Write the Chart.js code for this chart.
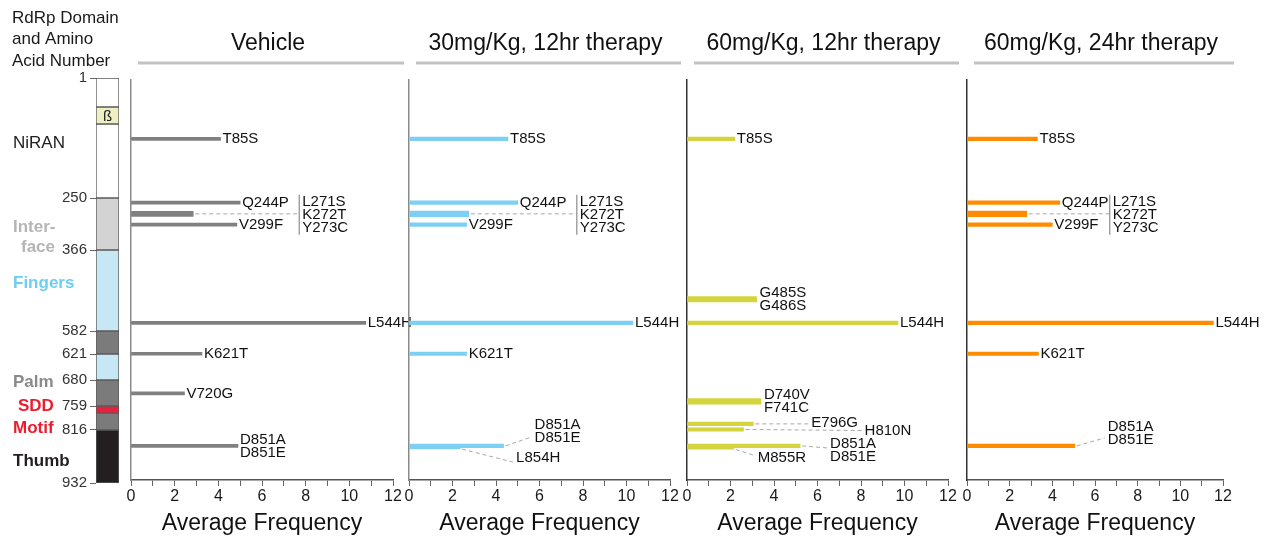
<!DOCTYPE html>
<html>
<head>
<meta charset="utf-8">
<script src="https://cdn.jsdelivr.net/npm/chart.js@4.4.1/dist/chart.umd.min.js"></script>
<style>
html, body { margin: 0; padding: 0; background: #fff; }
#wrap { position: relative; width: 1266px; height: 538px; overflow: hidden; background: #fff; }
#wrap canvas { position: absolute; top: 0; }
</style>
</head>
<body>
<div id="wrap"></div>
<script>
"use strict"

// data
// -----------------
const panelTitles = ['Vehicle', '30mg/Kg, 12hr therapy', '60mg/Kg, 12hr therapy', '60mg/Kg, 24hr therapy'];
const freqTicks = [0, 2, 4, 6, 8, 10, 12];

const domainNames = ['NiRAN', 'β-hairpin', 'NiRAN', 'Interface', 'Fingers', 'Palm', 'Fingers', 'Palm', 'SDD Motif', 'Palm', 'Thumb'];
const domainStart = [1, 29, 50, 250, 366, 582, 621, 680, 759, 776, 816];
const domainEnd = [29, 50, 250, 366, 582, 621, 680, 759, 776, 816, 932];
const domainTicks = [1, 250, 366, 582, 621, 680, 759, 816, 932];

const vehicleSites = [85, 244, 272, 299, 544, 621, 720, 851];
const vehicleFreq = [4.1, 5.0, 2.85, 4.85, 10.75, 3.25, 2.45, 4.9];
const vehicleMuts = [['T85S'], ['Q244P'], ['L271S', 'K272T', 'Y273C'], ['V299F'], ['L544H'], ['K621T'], ['V720G'], ['D851A', 'D851E']];

const dose30Sites = [85, 244, 272, 299, 544, 621, 851, 854];
const dose30Freq = [4.55, 5.0, 2.75, 2.65, 10.3, 2.65, 4.35, 2.35];
const dose30Muts = [['T85S'], ['Q244P'], ['L271S', 'K272T', 'Y273C'], ['V299F'], ['L544H'], ['K621T'], ['D851A', 'D851E'], ['L854H']];

const dose60Sites = [85, 485, 544, 740, 796, 810, 851, 855];
const dose60Freq = [2.2, 3.2, 9.7, 3.4, 3.05, 2.6, 5.2, 2.15];
const dose60Muts = [['T85S'], ['G485S', 'G486S'], ['L544H'], ['D740V', 'F741C'], ['E796G'], ['H810N'], ['D851A', 'D851E'], ['M855R']];

const dose60LongSites = [85, 244, 272, 299, 544, 621, 851];
const dose60LongFreq = [3.3, 4.35, 2.8, 4.0, 11.55, 3.35, 5.05];
const dose60LongMuts = [['T85S'], ['Q244P'], ['L271S', 'K272T', 'Y273C'], ['V299F'], ['L544H'], ['K621T'], ['D851A', 'D851E']];

// layout (label offsets in px from bar end, bar weight)
// -----------------
const vehicleLayout = [null, null, {dx: 109, dy: 1, lead: 0, bracket: true, thick: true}, null, null, null, null, null];
const dose30Layout = [null, null, {dx: 111, dy: 1, lead: 0, bracket: true, thick: true}, null, null, null,
    {dx: 31, dy: -15, lead: -9}, {dx: 56, dy: 11, lead: 15}];
const dose60Layout = [null, {dx: 3, thick: true}, null, {dx: 3, thick: true},
    {dx: 58, dy: -1, lead: 0}, {dx: 121, dy: 1, lead: 1}, {dx: 30, dy: 4, lead: 2}, {dx: 24, dy: 10, lead: 8}];
const dose60LongLayout = [null, null, {dx: 86, dy: 1, lead: 0, bracket: true, thick: true}, null, null, null,
    {dx: 33, dy: -13, lead: -8}];

// schematic (not to scale) position of domain boundaries in the left column
const schematicKnots = [[1, 0], [29, 0.0716], [50, 0.1136], [250, 0.2963], [366, 0.4247], [582, 0.6247],
    [621, 0.6815], [680, 0.7457], [759, 0.8099], [816, 0.8691], [932, 1]];

const FONT = '"Liberation Sans", Arial, Helvetica, sans-serif';
const wrap = document.getElementById('wrap');

function makeCanvas(w) {
    const c = document.createElement('canvas');
    c.width = w; c.height = 538;
    c.style.width = w + 'px'; c.style.height = '538px';
    wrap.appendChild(c);
    return c;
}

// move / pad a chart so its plot area lands on the wanted page box
function fitArea(chart, canvas, pad, box) {
    const a = chart.chartArea;
    pad.right += (a.right - a.left) - (box.right - box.left);
    pad.bottom += a.bottom - box.bottom;
    chart.options.layout.padding = Object.assign({}, pad);
    chart.update();
    canvas.style.left = (box.left - chart.chartArea.left) + 'px';
}

// left column scale: piecewise, the domain drawing is a schematic
// -----------------
class SchematicScale extends Chart.LinearScale {
    _frac(v) {
        const k = schematicKnots;
        if (v <= k[0][0]) return k[0][1];
        for (let i = 1; i < k.length; i++) {
            if (v <= k[i][0]) {
                const t = (v - k[i - 1][0]) / (k[i][0] - k[i - 1][0]);
                return k[i - 1][1] + t * (k[i][1] - k[i - 1][1]);
            }
        }
        return 1;
    }
    getPixelForValue(v) {
        if (v === null || isNaN(v)) return NaN;
        return this.top + this._frac(v) * (this.bottom - this.top);
    }
    getValueForPixel(p) {
        const f = (p - this.top) / (this.bottom - this.top);
        const k = schematicKnots;
        for (let i = 1; i < k.length; i++) {
            if (f <= k[i][1]) {
                const t = (f - k[i - 1][1]) / (k[i][1] - k[i - 1][1]);
                return k[i - 1][0] + t * (k[i][0] - k[i - 1][0]);
            }
        }
        return k[k.length - 1][0];
    }
}
SchematicScale.id = 'schematic';
SchematicScale.defaults = Chart.LinearScale.defaults;
Chart.register(SchematicScale);

// domain column
// -----------------
const domainColors = ['#ffffff', '#eef0c4', '#ffffff', '#d3d3d3', '#c6e7f3', '#7b7b7c', '#c6e7f3', '#7b7b7c', '#e8203a', '#7b7b7c', '#231f20'];

const headerLines = ['RdRp Domain', 'and Amino', 'Acid Number'];
const domainTags = [
    {text: 'NiRAN', x: 13, y: 143, bold: false, color: '#222'},
    {text: 'Inter-', x: 13, y: 227, bold: true, color: '#b5b5b5'},
    {text: 'face', x: 21, y: 247, bold: true, color: '#b5b5b5'},
    {text: 'Fingers', x: 13, y: 283, bold: true, color: '#6ecdf0'},
    {text: 'Palm', x: 13, y: 382, bold: true, color: '#8a8a8a'},
    {text: 'SDD', x: 18, y: 406, bold: true, color: '#ec1c2e'},
    {text: 'Motif', x: 13, y: 428, bold: true, color: '#ec1c2e'},
    {text: 'Thumb', x: 13, y: 461, bold: true, color: '#231f20'}
];

const domainText = {
    id: 'domainText',
    afterDraw(chart) {
        const ctx = chart.ctx;
        const ox = chart.chartArea.left - 96;
        ctx.save();
        ctx.textBaseline = 'middle';
        ctx.textAlign = 'left';
        ctx.fillStyle = '#1a1a1a';
        ctx.font = '17px ' + FONT;
        headerLines.forEach((t, i) => ctx.fillText(t, 12 + ox, 18 + i * 21.5));
        domainTags.forEach(d => {
            ctx.font = (d.bold ? 'bold ' : '') + '17px ' + FONT;
            ctx.fillStyle = d.color;
            ctx.fillText(d.text, d.x + ox, d.y);
        });
        // beta hairpin glyph
        const el = chart.getDatasetMeta(1).data[0];
        ctx.font = '15px ' + FONT;
        ctx.fillStyle = '#222';
        ctx.textAlign = 'center';
        ctx.fillText('ß', el.x, (el.y + el.base) / 2 + 1);
        ctx.restore();
    }
};

const domainCanvas = makeCanvas(150);
const domainPad = {left: 56, right: 20, top: 78, bottom: 55};
const domainChart = new Chart(domainCanvas, {
    type: 'bar',
    data: {
        labels: ['RdRp'],
        datasets: domainNames.map((name, i) => ({
            label: name,
            data: [[domainStart[i], domainEnd[i]]],
            backgroundColor: domainColors[i],
            borderColor: '#5a5a5a',
            borderWidth: 1,
            borderSkipped: false,
            grouped: false,
            barPercentage: 1,
            categoryPercentage: 1
        }))
    },
    options: {
        responsive: false,
        animation: false,
        devicePixelRatio: 1,
        layout: {padding: Object.assign({}, domainPad)},
        plugins: {legend: {display: false}, tooltip: {enabled: false}},
        scales: {
            x: {type: 'category', display: false},
            y: {
                type: 'schematic',
                position: 'left',
                min: 1,
                max: 932,
                afterBuildTicks: s => { s.ticks = domainTicks.map(v => ({value: v})); },
                afterFit: s => { s.width = 40; },
                ticks: {autoSkip: false, padding: 3, color: '#333', font: {size: 15, family: FONT}},
                grid: {drawOnChartArea: false, drawTicks: true, tickLength: 6, color: '#666'},
                border: {display: false}
            }
        }
    },
    plugins: [domainText]
});
fitArea(domainChart, domainCanvas, domainPad, {left: 96, right: 119, bottom: 483});

// frequency panels
// -----------------
const panels = [
    {sites: vehicleSites, freq: vehicleFreq, muts: vehicleMuts, layout: vehicleLayout,
        color: '#808080', axis: '#8a8a8a', thin: 3, thick: 5, left: 131, right: 393},
    {sites: dose30Sites, freq: dose30Freq, muts: dose30Muts, layout: dose30Layout,
        color: '#7dd0f4', axis: '#8a8a8a', thin: 3.5, thick: 5.5, left: 409, right: 670},
    {sites: dose60Sites, freq: dose60Freq, muts: dose60Muts, layout: dose60Layout,
        color: '#d4d43e', axis: '#333', thin: 3.5, thick: 5.5, left: 687, right: 948},
    {sites: dose60LongSites, freq: dose60LongFreq, muts: dose60LongMuts, layout: dose60LongLayout,
        color: '#ff8c00', axis: '#333', thin: 3.5, thick: 5.5, left: 967, right: 1223}
];

function panelHeader(title) {
    return {
        id: 'panelHeader',
        afterDraw(chart) {
            const {ctx, chartArea: a} = chart;
            const l = a.left + 7, r = a.right + 11;
            ctx.save();
            ctx.strokeStyle = '#c2c2c2';
            ctx.lineWidth = 3;
            ctx.beginPath(); ctx.moveTo(l, 63); ctx.lineTo(r, 63); ctx.stroke();
            ctx.fillStyle = '#111';
            ctx.font = '23px ' + FONT;
            ctx.textAlign = 'center';
            ctx.textBaseline = 'middle';
            ctx.fillText(title, (l + r) / 2 - 3, 44);
            ctx.restore();
        }
    };
}

function mutationLabels(p) {
    return {
        id: 'mutationLabels',
        afterDatasetsDraw(chart) {
            const ctx = chart.ctx, xs = chart.scales.x, ys = chart.scales.y;
            const gap = 13;
            ctx.save();
            ctx.font = '15px ' + FONT;
            ctx.textBaseline = 'middle';
            ctx.textAlign = 'left';
            p.sites.forEach((site, i) => {
                const lay = Object.assign({dx: 2, dy: 0}, p.layout[i] || {});
                const bx = xs.getPixelForValue(p.freq[i]);
                const by = ys.getPixelForValue(site);
                const lines = p.muts[i];
                const lx = bx + lay.dx, cy = by + lay.dy;
                const top = cy - (lines.length - 1) * gap / 2;
                if (lay.lead !== undefined) {
                    ctx.strokeStyle = '#a8a8a8';
                    ctx.lineWidth = 1;
                    ctx.setLineDash([4, 3]);
                    ctx.beginPath();
                    ctx.moveTo(bx + 2, by + (lay.lead > 4 ? 2 : 0));
                    ctx.lineTo(lx - 3, by + lay.lead);
                    ctx.stroke();
                    ctx.setLineDash([]);
                }
                if (lay.bracket) {
                    ctx.strokeStyle = '#8c8c8c';
                    ctx.lineWidth = 1.2;
                    ctx.beginPath();
                    ctx.moveTo(lx - 3, top - 7);
                    ctx.lineTo(lx - 3, top + (lines.length - 1) * gap + 7);
                    ctx.stroke();
                }
                ctx.fillStyle = '#111';
                lines.forEach((t, k) => ctx.fillText(t, lx, top + k * gap));
            });
            ctx.restore();
        }
    };
}

panels.forEach((p, n) => {
    const isThick = i => !!(p.layout[i] && p.layout[i].thick);
    const thinData = [], thickData = [];
    p.sites.forEach((s, i) => (isThick(i) ? thickData : thinData).push({x: p.freq[i], y: s}));

    const canvas = makeCanvas(320);
    const pad = {left: 20, right: 45, top: 80, bottom: 2};
    const chart = new Chart(canvas, {
        type: 'bar',
        data: {
            datasets: [
                {label: 'single site', data: thinData, backgroundColor: p.color, barThickness: p.thin, grouped: false, borderWidth: 0},
                {label: 'adjacent sites', data: thickData, backgroundColor: p.color, barThickness: p.thick, grouped: false, borderWidth: 0}
            ]
        },
        options: {
            indexAxis: 'y',
            responsive: false,
            animation: false,
            devicePixelRatio: 1,
            layout: {padding: Object.assign({}, pad)},
            plugins: {legend: {display: false}, tooltip: {enabled: false}},
            scales: {
                x: {
                    type: 'linear',
                    min: 0,
                    max: 12,
                    ticks: {
                        stepSize: 1,
                        autoSkip: false,
                        maxRotation: 0,
                        padding: 1,
                        color: '#1a1a1a',
                        font: {size: 16, family: FONT},
                        callback: v => freqTicks.includes(v) ? String(v) : ''
                    },
                    grid: {drawOnChartArea: false, drawTicks: true, tickLength: 6, color: '#666'},
                    border: {color: '#555', width: 1.5},
                    title: {display: true, text: 'Average Frequency', color: '#111',
                        font: {size: 23, family: FONT}, padding: {top: 3, bottom: 0}}
                },
                y: {
                    type: 'linear',
                    reverse: true,
                    offset: false,
                    min: -62,
                    max: 936,
                    ticks: {display: false},
                    grid: {display: false, drawTicks: false},
                    border: {display: true, color: p.axis, width: 1.5}
                }
            }
        },
        plugins: [panelHeader(panelTitles[n]), mutationLabels(p)]
    });
    fitArea(chart, canvas, pad, {left: p.left, right: p.right, bottom: 480});
});
</script>
</body>
</html>
